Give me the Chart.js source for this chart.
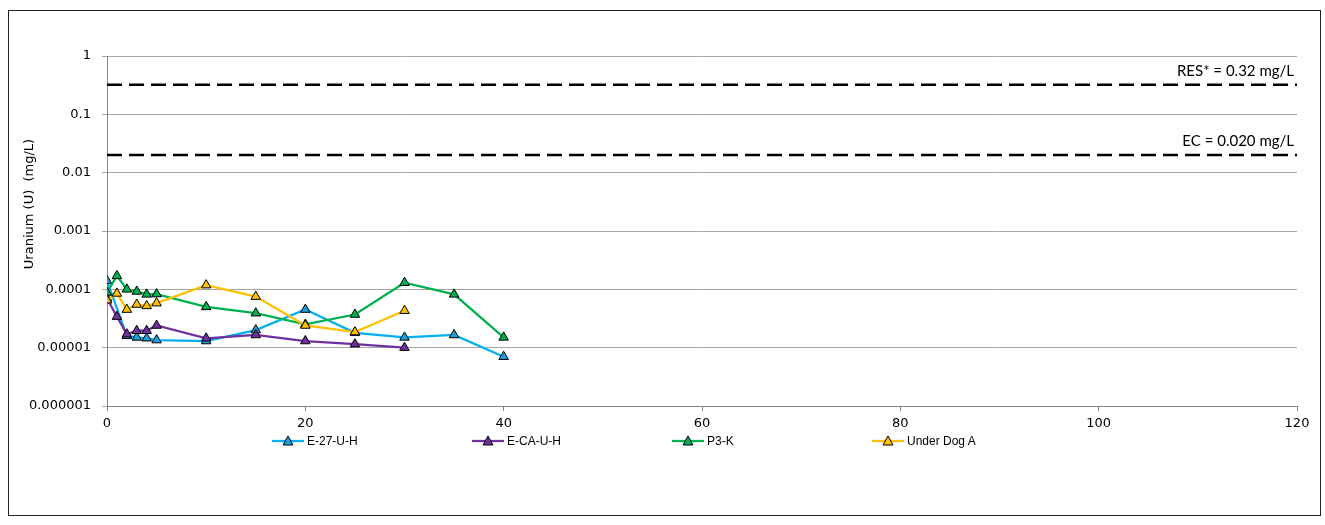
<!DOCTYPE html>
<html>
<head>
<meta charset="utf-8">
<script src="https://cdn.jsdelivr.net/npm/chart.js@4.4.1/dist/chart.umd.min.js"></script>
<style>
  body { margin: 0; background: #fff; }
  #wrap { position: relative; width: 1325px; height: 525px; }
  #frame { position: absolute; left: 8px; top: 10px; width: 1311px; height: 504px; border: 1px solid #222; pointer-events: none; }
  #legend { position: absolute; left: 272px; top: 434px; display: flex; font: 12px "Liberation Sans", Arial, sans-serif; color: #000; }
  #legend .item { width: 200px; display: flex; align-items: center; height: 14px; }
  #legend svg { margin-right: 3px; }
</style>
</head>
<body>
<div id="wrap">
  <canvas id="chart" width="1325" height="525"></canvas>
  <div id="frame"></div>
  <div id="legend"></div>
</div>
<script>
// valores (mg/L) — días en el eje x
const xE27 = [0, 2, 3, 4, 5, 10, 15, 20, 25, 30, 35, 40];
const yE27 = [1.4e-4, 1.6e-5, 1.5e-5, 1.45e-5, 1.35e-5, 1.3e-5, 2.0e-5, 4.5e-5, 1.8e-5, 1.5e-5, 1.65e-5, 7e-6];

const xECA = [0, 1, 2, 3, 4, 5, 10, 15, 20, 25, 30];
const yECA = [7e-5, 3.4e-5, 1.7e-5, 1.95e-5, 1.95e-5, 2.4e-5, 1.45e-5, 1.65e-5, 1.3e-5, 1.15e-5, 1.0e-5];

const xP3K = [0, 1, 2, 3, 4, 5, 10, 15, 20, 25, 30, 35, 40];
const yP3K = [8.8e-5, 1.7e-4, 1.0e-4, 9.2e-5, 8.2e-5, 8.3e-5, 5.0e-5, 3.9e-5, 2.5e-5, 3.7e-5, 1.3e-4, 8.2e-5, 1.5e-5];

const xUDA = [0, 1, 2, 3, 4, 5, 10, 15, 20, 25, 30];
const yUDA = [6.5e-5, 8.5e-5, 4.5e-5, 5.5e-5, 5.2e-5, 5.8e-5, 1.18e-4, 7.5e-5, 2.4e-5, 1.85e-5, 4.3e-5];

const seriesNames = ['E-27-U-H', 'E-CA-U-H', 'P3-K', 'Under Dog A'];

// límites de referencia
const limitValues = [0.32, 0.020];
const limitLabels = ['RES* = 0.32 mg/L', 'EC = 0.020 mg/L'];

const yTickValues = [1e-6, 1e-5, 1e-4, 1e-3, 1e-2, 1e-1, 1];
const yTickLabels = ['0.000001', '0.00001', '0.0001', '0.001', '0.01', '0.1', '1'];
const xMin = 0, xMax = 120, xStep = 20;

const FONT = '"DejaVu Sans", sans-serif';

const toPts = (xs, ys) => xs.map((x, i) => ({ x, y: ys[i] }));

function serie(label, xs, ys, line, fill, order) {
  return {
    label, data: toPts(xs, ys), showLine: true, order,
    borderColor: line, borderWidth: 2.25,
    pointStyle: 'triangle', pointRadius: 5.5,
    pointBackgroundColor: fill, pointBorderColor: '#000', pointBorderWidth: 1,
  };
}

const limitSets = limitValues.map(v => ({
  label: 'limit', data: [{ x: xMin, y: v }, { x: xMax, y: v }], showLine: true, order: 9,
  borderColor: '#000', borderWidth: 2.5, borderDash: [15, 7], pointRadius: 0,
}));

// texto de los límites y título del eje y
const extras = {
  id: 'extras',
  afterDatasetsDraw(chart) {
    const { ctx, scales: { x, y } } = chart;
    ctx.save();
    ctx.fillStyle = '#000';
    ctx.font = '15px Lato, "Open Sans", sans-serif';
    ctx.textAlign = 'right';
    ctx.textBaseline = 'alphabetic';
    limitValues.forEach((v, i) => {
      ctx.fillText(limitLabels[i], x.getPixelForValue(xMax) - 3, y.getPixelForValue(v) - 9);
    });
    ctx.restore();

    ctx.save();
    ctx.translate(30, 204);
    ctx.rotate(-Math.PI / 2);
    ctx.font = '13px ' + FONT;
    ctx.fillStyle = '#000';
    ctx.textAlign = 'center';
    ctx.textBaseline = 'middle';
    ctx.fillText('Uranium (U)  (mg/L)', 0, 0);
    ctx.restore();
  }
};

const datasets = [
  serie(seriesNames[0], xE27, yE27, '#00B0F0', '#1E9FDA', 4),
  serie(seriesNames[1], xECA, yECA, '#7030A0', '#7030A0', 3),
  serie(seriesNames[2], xP3K, yP3K, '#00B050', '#00B050', 2),
  serie(seriesNames[3], xUDA, yUDA, '#FFC000', '#FFC000', 1),
  ...limitSets,
];

const chart = new Chart(document.getElementById('chart'), {
  type: 'scatter',
  data: { datasets },
  options: {
    responsive: false,
    animation: false,
    layout: { padding: { left: 10, right: 28, top: 56, bottom: 89 } },
    plugins: { legend: { display: false }, tooltip: { enabled: false } },
    scales: {
      x: {
        type: 'linear', min: xMin, max: xMax,
        ticks: { stepSize: xStep, color: '#000', padding: 5, font: { family: FONT, size: 13 } },
        grid: { drawOnChartArea: false, drawTicks: true, tickLength: 5, color: '#868686' },
        border: { color: '#868686', width: 1 },
        afterFit: a => { a.height = 30; },
      },
      y: {
        type: 'logarithmic', min: 1e-6, max: 1,
        afterBuildTicks: a => { a.ticks = yTickValues.map(v => ({ value: v })); },
        ticks: { autoSkip: false, color: '#000', padding: 11, font: { family: FONT, size: 13 },
                 callback: (v, i) => yTickLabels[i] },
        grid: { color: '#a6a6a6', lineWidth: 1, tickLength: 5 },
        border: { color: '#868686', width: 1 },
        afterFit: a => { a.width = 97; },
      },
    },
  },
  plugins: [extras],
});

// leyenda en html, con línea + marcador como en Excel
const legend = document.getElementById('legend');
legend.innerHTML = datasets.slice(0, 4).map(d => `
  <div class="item">
    <svg width="32" height="12" viewBox="0 0 32 12">
      <line x1="0" y1="6" x2="32" y2="6" stroke="${d.borderColor}" stroke-width="2.25"/>
      <polygon points="16,1 21,10 11,10" fill="${d.pointBackgroundColor}" stroke="#000" stroke-width="1"/>
    </svg>${d.label}
  </div>`).join('');
</script>
</body>
</html>
